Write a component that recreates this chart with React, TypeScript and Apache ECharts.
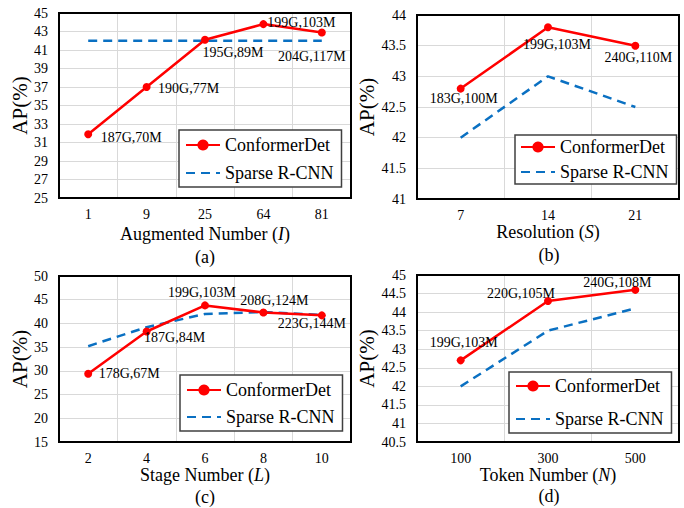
import React, { useEffect, useRef } from 'react';
import * as echarts from 'echarts';

const FONT = 'Liberation Serif';

// ---------- data ----------
const catsA = ['1', '9', '25', '64', '81'];
const confA = [31.9, 37.0, 42.1, 43.8, 42.9];
const sparseA = [42.0, 42.0, 42.0, 42.0, 42.0];
const costA = ['187G,70M', '190G,77M', '195G,89M', '199G,103M', '204G,117M'];
const yTicksA = ['25', '27', '29', '31', '33', '35', '37', '39', '41', '43', '45'];

const catsB = ['7', '14', '21'];
const confB = [42.8, 43.8, 43.5];
const sparseB = [42.0, 43.0, 42.5];
const costB = ['183G,100M', '199G,103M', '240G,110M'];

const catsC = ['2', '4', '6', '8', '10'];
const confC = [29.4, 38.3, 43.8, 42.3, 41.7];
const sparseC = [35.2, 39.2, 42.0, 42.4, 41.8];
const costC = ['178G,67M', '187G,84M', '199G,103M', '208G,124M', '223G,144M'];

const catsD = ['100', '300', '500'];
const confD = [42.7, 44.3, 44.6];
const sparseD = [42.0, 43.5, 44.1];
const costD = ['199G,103M', '220G,105M', '240G,108M'];

// ---------- label placement (styling) ----------
const offA = [[43, 3], [42, 1], [28, 13], [38, -2], [-10, 24]];
const offB = [[3, 10], [9, 17], [3, 12]];
const offC = [[41, 0], [28, 6], [-3, -13], [11, -12], [-10, 8]];
const offD = [[3, -18], [-27, -7], [-18, -7]];

// ---------- layout ----------
const GRIDS = [
  { left: 59, top: 13, width: 292, height: 185 },
  { left: 417, top: 15, width: 262, height: 184 },
  { left: 59, top: 276, width: 292, height: 166 },
  { left: 417, top: 275, width: 262, height: 167 },
];
const LEGENDS = [
  { left: 179, top: 130, gap: 10, pad: [6, 8, 5, 6] },
  { left: 515, top: 135, gap: 7, pad: [3, 8, 3, 5] },
  { left: 180, top: 375, gap: 9, pad: [6, 8, 5, 6] },
  { left: 509, top: 372, gap: 15, pad: [5, 8, 5, 6] },
];
const TITLES = [
  { text: '(a)', x: 205, y: 257 },
  { text: '(b)', x: 549, y: 255 },
  { text: '(c)', x: 205, y: 497 },
  { text: '(d)', x: 549, y: 496 },
];

const RED = '#ff0000';
const BLUE = '#0a70c2';
const GRIDLINE = '#d9d9d9';

function xAxis(i: number, cats: string[], name: string, gap: number) {
  return {
    type: 'category',
    gridIndex: i,
    data: cats,
    boundaryGap: true,
    axisLine: { show: false },
    axisTick: { show: false },
    axisLabel: { interval: 0, fontSize: 14, color: '#000', fontFamily: FONT, margin: 9 },
    splitLine: { show: true, interval: 0, lineStyle: { color: GRIDLINE, width: 1 } },
    name,
    nameLocation: 'middle',
    nameGap: gap,
    nameTextStyle: {
      fontSize: 18,
      color: '#000',
      fontFamily: FONT,
      rich: { i: { fontStyle: 'italic', fontSize: 18, color: '#000', fontFamily: FONT } },
    },
  };
}

const yName = (gap: number) => ({
  name: 'AP(%)',
  nameLocation: 'middle',
  nameGap: gap,
  nameTextStyle: { fontSize: 21, color: '#000', fontFamily: FONT },
});

function yValue(i: number, min: number, max: number, interval: number, gap: number) {
  return {
    type: 'value',
    gridIndex: i,
    min,
    max,
    interval,
    axisLine: { show: false },
    axisTick: { show: false },
    axisLabel: { fontSize: 14, color: '#000', fontFamily: FONT, margin: 11 },
    splitLine: { show: true, lineStyle: { color: GRIDLINE, width: 1 } },
    ...yName(gap),
  };
}

function confSeries(xi: number, yi: number, data: number[], labels: string[], offs: number[][]) {
  return {
    type: 'line',
    name: 'ConformerDet',
    xAxisIndex: xi,
    yAxisIndex: yi,
    data: data.map((v, k) => ({ value: v, label: { offset: offs[k] } })),
    symbol: 'circle',
    symbolSize: 8,
    itemStyle: { color: RED },
    lineStyle: { color: RED, width: 2.5 },
    label: {
      show: true,
      position: 'inside',
      formatter: (p: any) => labels[p.dataIndex],
      fontSize: 14,
      fontFamily: FONT,
      color: '#000',
    },
    z: 3,
  };
}

function sparseSeries(xi: number, yi: number, data: number[]) {
  return {
    type: 'line',
    name: 'Sparse R-CNN',
    xAxisIndex: xi,
    yAxisIndex: yi,
    data,
    symbol: 'none',
    itemStyle: { color: BLUE, opacity: 0 },
    lineStyle: { color: BLUE, width: 2.5, type: [9, 6], opacity: 1 },
    z: 2,
  };
}

export default function App() {
  const ref = useRef<HTMLDivElement>(null);
  useEffect(() => {
    if (!ref.current) return;
    const chart = echarts.init(ref.current, null, { renderer: 'svg' });
    const option: any = {
      animation: false,
      backgroundColor: '#fff',
      textStyle: { fontFamily: FONT },
      grid: GRIDS.map((g) => ({ ...g, containLabel: false })),
      xAxis: [
        xAxis(0, catsA, 'Augmented Number ({i|I})', 27),
        xAxis(1, catsB, 'Resolution ({i|S})', 22),
        xAxis(2, catsC, 'Stage Number ({i|L})', 24),
        xAxis(3, catsD, 'Token Number ({i|N})', 23),
      ],
      yAxis: [
        {
          type: 'category',
          gridIndex: 0,
          data: yTicksA,
          boundaryGap: false,
          axisLine: { show: false },
          axisTick: { show: false },
          axisLabel: { interval: 0, fontSize: 14, color: '#000', fontFamily: FONT, margin: 11 },
          splitLine: { show: true, interval: 0, lineStyle: { color: GRIDLINE, width: 1 } },
          ...yName(25),
        },
        { type: 'value', gridIndex: 0, min: 25, max: 45, show: false, splitLine: { show: false } },
        yValue(1, 41, 44, 0.5, 36),
        yValue(2, 15, 50, 5, 25),
        yValue(3, 40.5, 45, 0.5, 36),
      ],
      legend: LEGENDS.map((l) => ({
        orient: 'vertical',
        left: l.left,
        top: l.top,
        padding: l.pad,
        itemGap: l.gap,
        itemWidth: 34,
        itemHeight: 14,
        backgroundColor: '#fff',
        borderColor: '#404040',
        borderWidth: 1.5,
        borderRadius: 0,
        data: [
          { name: 'ConformerDet' },
          { name: 'Sparse R-CNN', itemStyle: { opacity: 0 } },
        ],
        textStyle: { fontSize: 18, color: '#000', fontFamily: FONT },
        selectedMode: false,
      })),
      series: [
        sparseSeries(0, 1, sparseA),
        confSeries(0, 1, confA, costA, offA),
        sparseSeries(1, 2, sparseB),
        confSeries(1, 2, confB, costB, offB),
        sparseSeries(2, 3, sparseC),
        confSeries(2, 3, confC, costC, offC),
        sparseSeries(3, 4, sparseD),
        confSeries(3, 4, confD, costD, offD),
      ],
      graphic: [
        ...GRIDS.map((g) => ({
          type: 'rect',
          z: 100,
          silent: true,
          shape: { x: g.left, y: g.top, width: g.width, height: g.height },
          style: { fill: 'none', stroke: '#000', lineWidth: 2 },
        })),
        ...TITLES.map((t) => ({
          type: 'text',
          x: t.x,
          y: t.y,
          z: 100,
          style: {
            text: t.text,
            font: `18px "${FONT}"`,
            fill: '#000',
            align: 'center',
            verticalAlign: 'middle',
          },
        })),
      ],
    };
    chart.setOption(option);
    return () => chart.dispose();
  }, []);
  return (
    <div
      ref={ref}
      style={{ position: 'fixed', left: 0, top: 0, width: 684, height: 508, background: '#fff' }}
    />
  );
}
